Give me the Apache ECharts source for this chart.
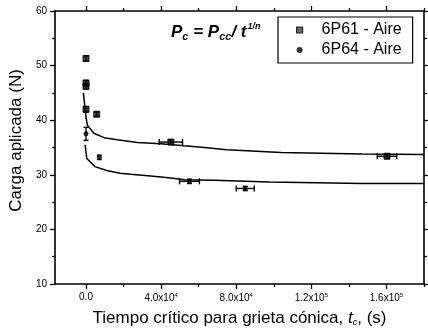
<!DOCTYPE html>
<html>
<head>
<meta charset="utf-8">
<script src="https://cdn.jsdelivr.net/npm/echarts@6/dist/echarts.min.js"></script>
<style>
  html, body { margin: 0; padding: 0; background: #fff; }
  #chart { width: 428px; height: 336px; }
</style>
</head>
<body>
<div id="chart"></div>
<script>
// 6P61 - Aire (upper set)
const p61T = [0, 0, 0, 0, 5700, 45200, 160300];
const p61P = [51.3, 46.8, 46.2, 42.0, 41.1, 36.0, 33.4];
const p61Terr = [0, 0, 0, 0, 0, 6200, 5200];
const p61Perr = [0.5, 0.5, 0.5, 0.5, 0.4, 0.4, 0.4];

// 6P64 - Aire (lower set)
const p64T = [0, 7100, 55100, 84800];
const p64P = [37.5, 33.2, 28.8, 27.5];
const p64Terr = [0, 0, 5300, 4800];
const p64Perr = [1.2, 0.4, 0.4, 0.4];

// fitted curves P_c = P_cc / t^(1/n)
const fit61T = [-1400, 0, 700, 4200, 9600, 16700, 27400, 39800, 52300, 63000, 75000, 104000, 147000, 180000];
const fit61P = [45.0, 40.5, 39.1, 37.6, 36.8, 36.4, 35.9, 35.7, 35.3, 35.0, 34.6, 34.1, 33.8, 33.7];
const fit64T = [-500, 400, 4800, 11000, 18100, 23800, 34500, 45200, 52300, 68300, 97600, 147000, 180000];
const fit64P = [35.5, 33.0, 31.5, 30.8, 30.3, 30.1, 29.8, 29.4, 29.1, 29.0, 28.7, 28.4, 28.4];

const xMajor = [0, 40000, 80000, 120000, 160000];
const xMinor = [20000, 60000, 100000, 140000, 180000];
const xTickLabels = ['0.0', '4.0x10{sup|4}', '8.0x10{sup|4}', '1.2x10{sup|5}', '1.6x10{sup|5}'];

const FONT = 'Liberation Sans, Arial, sans-serif';

let zip = (a, b) => a.map((v, i) => [v, b[i]]);
let withErr = (t, p, te, pe) => t.map((v, i) => [v, p[i], te[i], pe[i]]);

function errorBars(params, api) {
    const t = api.value(0), v = api.value(1), dt = api.value(2), dv = api.value(3);
    const kids = [];
    const st = { stroke: '#000', lineWidth: 1.4 };
    if (dt > 0) {
        const a = api.coord([t - dt, v]), b = api.coord([t + dt, v]);
        kids.push({ type: 'line', shape: { x1: a[0], y1: a[1], x2: b[0], y2: b[1] }, style: st });
        kids.push({ type: 'line', shape: { x1: a[0], y1: a[1] - 3, x2: a[0], y2: a[1] + 3 }, style: st });
        kids.push({ type: 'line', shape: { x1: b[0], y1: b[1] - 3, x2: b[0], y2: b[1] + 3 }, style: st });
    }
    if (dv > 0) {
        const a = api.coord([t, v - dv]), b = api.coord([t, v + dv]);
        kids.push({ type: 'line', shape: { x1: a[0], y1: a[1], x2: b[0], y2: b[1] }, style: st });
        kids.push({ type: 'line', shape: { x1: a[0] - 2.5, y1: a[1], x2: a[0] + 2.5, y2: a[1] }, style: st });
        kids.push({ type: 'line', shape: { x1: b[0] - 2.5, y1: b[1], x2: b[0] + 2.5, y2: b[1] }, style: st });
    }
    return { type: 'group', children: kids };
}

const axisLine = { show: true, onZero: false, lineStyle: { color: '#000', width: 1.6 } };
const tickStyle = { color: '#000', width: 1.3 };

let chart = echarts.init(document.getElementById('chart'), null, { renderer: 'canvas' });
let option = {
    animation: false,
    backgroundColor: '#fff',
    textStyle: { fontFamily: FONT, color: '#000' },
    grid: { left: 55, right: 4, top: 11, bottom: 52 },
    legend: {
        orient: 'vertical',
        left: 278, top: 17,
        borderColor: '#000', borderWidth: 1.2,
        padding: [5, 11, 5, 18],
        itemWidth: 6, itemHeight: 6,
        itemGap: 4,
        textStyle: { fontFamily: FONT, fontSize: 16, color: '#000', padding: [0, 0, 0, 14] },
        data: [
            { name: '6P61 - Aire', icon: 'rect', itemStyle: { color: '#444', borderColor: '#000', borderWidth: 1.2 } },
            { name: '6P64 - Aire', icon: 'circle', itemStyle: { color: '#000' } }
        ]
    },
    xAxis: [{
        type: 'value', min: -16500, max: 180000, position: 'bottom',
        axisLine: axisLine,
        axisTick: { show: true, length: 5, customValues: xMajor, lineStyle: tickStyle },
        axisLabel: {
            customValues: xMajor, margin: 8, fontSize: 10, fontFamily: FONT, color: '#000',
            formatter: (v) => xTickLabels[xMajor.indexOf(v)],
            rich: { sup: { fontSize: 6, verticalAlign: 'top', padding: [0, 0, 6, 0], fontFamily: FONT, color: '#000' } }
        },
        splitLine: { show: false },
        name: 'Tiempo crítico para grieta cónica, {i|t}{sub|c}, (s)',
        nameLocation: 'middle', nameGap: 26,
        nameTextStyle: {
            fontSize: 17, fontFamily: FONT, color: '#000',
            rich: {
                i: { fontSize: 17, fontStyle: 'italic', fontFamily: FONT, color: '#000' },
                sub: { fontSize: 9, fontStyle: 'italic', verticalAlign: 'bottom', padding: [6, 0, 0, 0], fontFamily: FONT, color: '#000' }
            }
        }
    }, {
        type: 'value', min: -16500, max: 180000, position: 'bottom',
        axisLine: { show: false, onZero: false },
        axisTick: { show: true, length: 3, customValues: xMinor, lineStyle: tickStyle },
        axisLabel: { show: false }, splitLine: { show: false }
    }, {
        type: 'value', min: -16500, max: 180000, position: 'top',
        axisLine: axisLine,
        axisTick: { show: true, length: 5, customValues: xMajor, lineStyle: tickStyle },
        axisLabel: { show: false }, splitLine: { show: false }
    }, {
        type: 'value', min: -16500, max: 180000, position: 'top',
        axisLine: { show: false, onZero: false },
        axisTick: { show: true, length: 3, customValues: xMinor, lineStyle: tickStyle },
        axisLabel: { show: false }, splitLine: { show: false }
    }],
    yAxis: [{
        type: 'value', min: 10, max: 60, interval: 10, position: 'left',
        axisLine: axisLine,
        axisTick: { show: true, length: 5, lineStyle: tickStyle },
        minorTick: { show: true, splitNumber: 2, length: 3, lineStyle: tickStyle },
        axisLabel: { margin: 8, fontSize: 10, fontFamily: FONT, color: '#000' },
        splitLine: { show: false },
        name: 'Carga aplicada (N)',
        nameLocation: 'middle', nameGap: 30,
        nameTextStyle: { fontSize: 17, fontFamily: FONT, color: '#000', padding: [0, 0, 0, 14] }
    }, {
        type: 'value', min: 10, max: 60, interval: 10, position: 'right',
        axisLine: axisLine,
        axisTick: { show: true, length: 5, lineStyle: tickStyle },
        minorTick: { show: true, splitNumber: 2, length: 3, lineStyle: tickStyle },
        axisLabel: { show: false }, splitLine: { show: false }
    }],
    graphic: [{
        type: 'text', left: 171, top: 22,
        style: {
            text: '{b|P}{s|c}{b| = P}{s|cc}{b|/ t}{p|1/n}',
            rich: {
                b: { fontSize: 17, fontWeight: 'bold', fontStyle: 'italic', fontFamily: FONT, fill: '#000', lineHeight: 20 },
                s: { fontSize: 11, fontWeight: 'bold', fontStyle: 'italic', fontFamily: FONT, fill: '#000', verticalAlign: 'bottom', padding: [7, 0, 0, 0] },
                p: { fontSize: 9, fontWeight: 'bold', fontStyle: 'italic', fontFamily: FONT, fill: '#000', verticalAlign: 'top', padding: [0, 0, 8, 1] }
            }
        }
    }],
    series: [{
        name: 'fit61', type: 'line', data: zip(fit61T, fit61P), showSymbol: false, symbol: 'none',
        lineStyle: { color: '#000', width: 1.5 }, z: 2, silent: true
    }, {
        name: 'fit64', type: 'line', data: zip(fit64T, fit64P), showSymbol: false, symbol: 'none',
        lineStyle: { color: '#000', width: 1.5 }, z: 2, silent: true
    }, {
        name: 'err61', type: 'custom', renderItem: errorBars, data: withErr(p61T, p61P, p61Terr, p61Perr), z: 3
    }, {
        name: 'err64', type: 'custom', renderItem: errorBars, data: withErr(p64T, p64P, p64Terr, p64Perr), z: 3
    }, {
        name: '6P61 - Aire', type: 'scatter', symbol: 'rect', symbolSize: 6,
        itemStyle: { color: '#111', borderColor: '#000', borderWidth: 1 },
        data: zip(p61T, p61P), z: 4
    }, {
        name: '6P64 - Aire', type: 'scatter', symbol: 'circle', symbolSize: 5,
        itemStyle: { color: '#000' },
        data: zip(p64T, p64P), z: 4
    }]
};
option && chart.setOption(option);
</script>
</body>
</html>
